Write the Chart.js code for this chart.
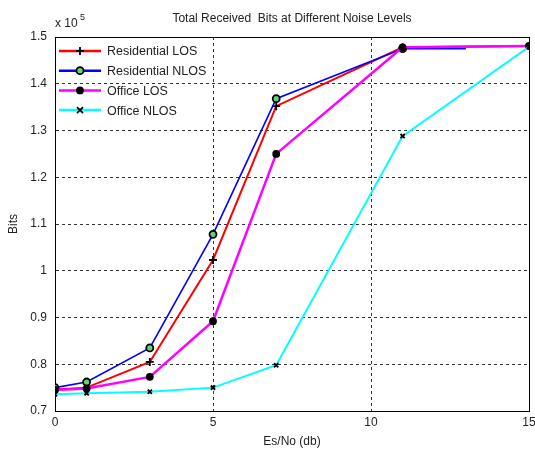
<!DOCTYPE html>
<html>
<head>
<meta charset="utf-8">
<script src="https://cdn.jsdelivr.net/npm/chart.js@4.4.0/dist/chart.umd.min.js"></script>
<style>
  html, body { margin: 0; padding: 0; background: #fff; }
  #wrap { width: 535px; height: 450px; position: relative; }
</style>
</head>
<body>
<div id="wrap"><canvas id="chart"></canvas></div>
<script>
/* ============================================================
   DATA  (Bits, plotted as x 10^5)
============================================================ */
const esNo      = [0, 1, 3, 5, 7, 11, 15];
const esNoBlue  = [0, 1, 3, 5, 7, 11, 13];
const resLos    = [74600, 75000, 80500, 102300, 135200, 147800, 148100];
const resNlos   = [75000, 76200, 83500, 107800, 136800, 147500, 147500];
const officeLos = [74500, 74800, 77300, 89200, 125000, 147800, 148100];
const officeNlos= [73600, 73800, 74100, 75000, 79800, 128800, 147900];
const seriesNames = ['Residential LOS', 'Residential NLOS', 'Office LOS', 'Office NLOS'];
const xTicks = [0, 5, 10, 15];
const yMin = 70000, yMax = 150000, yStep = 10000;

const FONT = '"Liberation Sans", Arial, sans-serif';
const TXT  = '#222';

function pts(xs, ys) { return xs.map((x, i) => ({ x, y: ys[i] })); }

/* ============================================================
   DATASETS
============================================================ */
const styles = [
  { color: '#ff0000', width: 2,   marker: 'cross',    r: 4,   fill: '#000',    order: 4 },
  { color: '#0000ff', width: 1.6, marker: 'circle',   r: 3.5, fill: '#5fd67a', order: 3 },
  { color: '#ff00ff', width: 2.5, marker: 'circle',   r: 3,   fill: '#000',    order: 2 },
  { color: '#00ffff', width: 2,   marker: 'crossRot', r: 3,   fill: '#000',    order: 1 }
];
const allData = [pts(esNo, resLos), pts(esNoBlue, resNlos), pts(esNo, officeLos), pts(esNo, officeNlos)];

const datasets = allData.map((d, i) => {
  const s = styles[i];
  return {
    label: seriesNames[i],
    data: d,
    borderColor: s.color,
    borderWidth: s.width,
    backgroundColor: s.color,
    pointStyle: s.marker,
    pointRadius: i === 1 ? d.map((p, k) => k === d.length - 1 ? 0 : s.r) : s.r,
    pointBorderColor: '#000',
    pointBackgroundColor: s.fill,
    pointBorderWidth: 1.8,
    tension: 0,
    order: s.order
  };
});

/* ============================================================
   PLUGINS  — frame, title, legend
============================================================ */
const framePlugin = {
  id: 'frame',
  beforeDatasetsDraw(chart) {
    const { ctx, chartArea: a } = chart;
    ctx.save();
    ctx.strokeStyle = '#000';
    ctx.lineWidth = 1;
    ctx.strokeRect(a.left + 0.5, a.top + 0.5, a.right - a.left, a.bottom - a.top);
    ctx.restore();
  }
};

const textPlugin = {
  id: 'texts',
  afterDraw(chart) {
    const { ctx, chartArea: a } = chart;
    ctx.save();
    ctx.fillStyle = TXT;
    ctx.font = '12px ' + FONT;
    ctx.textBaseline = 'alphabetic';
    ctx.textAlign = 'center';
    ctx.fillText('Total Received  Bits at Different Noise Levels', (a.left + a.right) / 2, 22);
    ctx.fillText('Es/No (db)', (a.left + a.right) / 2, 445);
    ctx.textAlign = 'left';
    ctx.fillText('x 10', a.left, 27);
    ctx.font = '9px ' + FONT;
    ctx.fillText('5', a.left + 25, 20);
    // y axis title
    ctx.font = '12px ' + FONT;
    ctx.translate(17, (a.top + a.bottom) / 2);
    ctx.rotate(-Math.PI / 2);
    ctx.textAlign = 'center';
    ctx.fillText('Bits', 0, 0);
    ctx.restore();

    /* legend */
    ctx.save();
    chart.data.datasets.forEach((ds, i) => {
      const y = 51 + i * 19.7;
      const x0 = a.left + 4, x1 = a.left + 46, c = (x0 + x1) / 2, r = styles[i].r;
      ctx.strokeStyle = ds.borderColor;
      ctx.lineWidth = 2.5;
      ctx.beginPath();
      ctx.moveTo(x0, y);
      ctx.lineTo(x1, y);
      ctx.stroke();
      ctx.fillStyle = styles[i].fill;
      ctx.strokeStyle = '#000';
      ctx.lineWidth = 1.8;
      ctx.beginPath();
      if (ds.pointStyle === 'circle') {
        ctx.arc(c, y, r, 0, Math.PI * 2);
        ctx.fill();
        ctx.stroke();
      } else if (ds.pointStyle === 'cross') {
        ctx.moveTo(c - r, y); ctx.lineTo(c + r, y);
        ctx.moveTo(c, y - r); ctx.lineTo(c, y + r);
        ctx.stroke();
      } else {
        ctx.moveTo(c - r, y - r); ctx.lineTo(c + r, y + r);
        ctx.moveTo(c + r, y - r); ctx.lineTo(c - r, y + r);
        ctx.stroke();
      }
      ctx.fillStyle = TXT;
      ctx.font = '12.5px ' + FONT;
      ctx.textAlign = 'left';
      ctx.textBaseline = 'middle';
      ctx.fillText(ds.label, x1 + 6, y + 1);
    });
    ctx.restore();
  }
};

/* ============================================================
   CHART
============================================================ */
new Chart(document.getElementById('chart'), {
  type: 'line',
  data: { datasets },
  options: {
    responsive: true,
    maintainAspectRatio: false,
    animation: false,
    layout: { padding: { top: 37, right: 6, left: 0, bottom: 0 } },
    plugins: { legend: { display: false }, tooltip: { enabled: false } },
    scales: {
      x: {
        type: 'linear',
        min: 0, max: 15,
        afterBuildTicks: s => { s.ticks = xTicks.map(v => ({ value: v })); },
        afterFit: s => { s.height = 39; s.paddingRight = 0; s.paddingLeft = 0; },
        ticks: { color: TXT, font: { family: FONT, size: 12 }, padding: 4, maxRotation: 0 },
        grid: { color: '#333', lineWidth: 1, drawTicks: false },
        border: { display: true, color: '#000', dash: [3, 3] }
      },
      y: {
        min: yMin, max: yMax,
        ticks: {
          stepSize: yStep,
          color: TXT,
          font: { family: FONT, size: 12 },
          padding: 8,
          callback: v => String(Math.round(v / 1000) / 100)
        },
        afterFit: s => { s.width = 55; s.paddingTop = 0; s.paddingBottom = 0; },
        grid: { color: '#333', lineWidth: 1, drawTicks: false },
        border: { display: true, color: '#000', dash: [3, 3] }
      }
    }
  },
  plugins: [framePlugin, textPlugin]
});
</script>
</body>
</html>
